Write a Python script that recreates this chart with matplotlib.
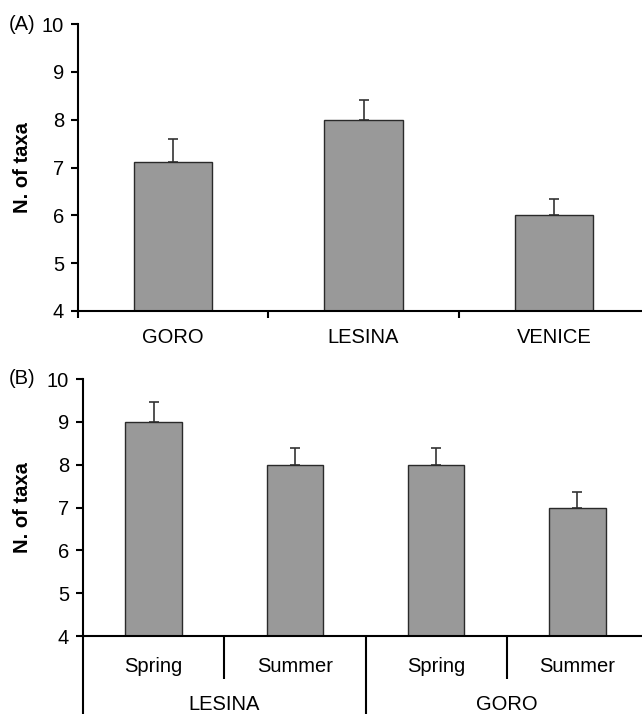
import matplotlib.pyplot as plt
import numpy as np

plt.rcParams['font.family'] = ['Liberation Sans', 'DejaVu Sans']

# Panel A: number of taxa per site
sites = ['GORO', 'LESINA', 'VENICE']
site_means = [7.12, 8.0, 6.0]
site_err = [0.48, 0.42, 0.34]

# Panel B: number of taxa per site and season
seasons = ['Spring', 'Summer', 'Spring', 'Summer']
season_groups = ['LESINA', 'GORO']
season_means = [9.0, 8.0, 8.0, 7.0]
season_err = [0.46, 0.40, 0.40, 0.36]

bar_color = '#999999'
edge_color = '#2a2a2a'
fs = 14.5

fig = plt.figure(figsize=(6.42, 7.14), dpi=100)

ax1 = fig.add_axes([78 / 642, 1 - 311 / 714, 571 / 642, 287 / 714])
ax2 = fig.add_axes([83 / 642, 1 - 636 / 714, 565 / 642, 257 / 714])


def style_axis(ax, centre_px):
    ax.set_ylim(4, 10)
    ax.set_yticks(np.arange(4, 11))
    ax.spines['top'].set_visible(False)
    ax.spines['right'].set_visible(False)
    for s in ['left', 'bottom']:
        ax.spines[s].set_linewidth(1.5)
        ax.spines[s].set_color('black')
    ax.tick_params(axis='y', direction='out', length=5, width=1.5, pad=5,
                   labelsize=fs)
    fig.text(23 / 642, 1 - centre_px / 714, 'N. of taxa', rotation=90,
             fontsize=fs, fontweight='bold', ha='center', va='center')


# ---- Panel A ----
x1 = np.arange(len(sites))
ax1.bar(x1, site_means, width=0.41, color=bar_color, edgecolor=edge_color,
        linewidth=1.0, zorder=2)
ax1.errorbar(x1, site_means, yerr=[np.zeros(len(sites)), site_err], fmt='none',
             ecolor='#333333', elinewidth=1.2, capsize=3.5, capthick=1.2, zorder=1)
ax1.set_xlim(-0.5, len(sites) - 0.5)
style_axis(ax1, 167.5)
ax1.set_xticks(x1)
ax1.set_xticklabels(sites, fontsize=fs)
ax1.set_xticks(np.arange(len(sites) + 1) - 0.5, minor=True)
ax1.tick_params(axis='x', which='major', length=0, pad=12)
ax1.tick_params(axis='x', which='minor', length=5, width=1.5, direction='out')
ax1.text(9 / 642, 1 - 24 / 714, '(A)', transform=fig.transFigure, fontsize=fs,
         ha='left', va='center')

# ---- Panel B ----
x2 = np.arange(len(seasons))
ax2.bar(x2, season_means, width=0.40, color=bar_color, edgecolor=edge_color,
        linewidth=1.0, zorder=2)
ax2.errorbar(x2, season_means, yerr=[np.zeros(len(seasons)), season_err], fmt='none',
             ecolor='#333333', elinewidth=1.2, capsize=3.5, capthick=1.2, zorder=1)
ax2.set_xlim(-0.5, len(seasons) - 0.5)
style_axis(ax2, 507.5)
ax2.set_xticks([])
ax2.text(9 / 642, 1 - 379 / 714, '(B)', transform=fig.transFigure, fontsize=fs,
         ha='left', va='center')

trans = ax2.get_xaxis_transform()
n_per_group = len(seasons) // len(season_groups)
for i, lab in enumerate(seasons):
    ax2.text(x2[i], -31 / 257, lab, transform=trans, ha='center', va='center', fontsize=fs)
for g, lab in enumerate(season_groups):
    centre = g * n_per_group + (n_per_group - 1) / 2
    ax2.text(centre, -69 / 257, lab, transform=trans, ha='center', va='center', fontsize=fs)

# dividers: short within groups, long between groups
for b in np.arange(len(seasons) + 1) - 0.5:
    idx = int(b + 0.5)
    bottom = -0.35 if idx % n_per_group == 0 else -43 / 257
    ax2.plot([b, b], [0, bottom], transform=trans, color='black', lw=1.5,
             clip_on=False, solid_capstyle='butt')

fig.savefig('out.png', dpi=100, facecolor='white')
